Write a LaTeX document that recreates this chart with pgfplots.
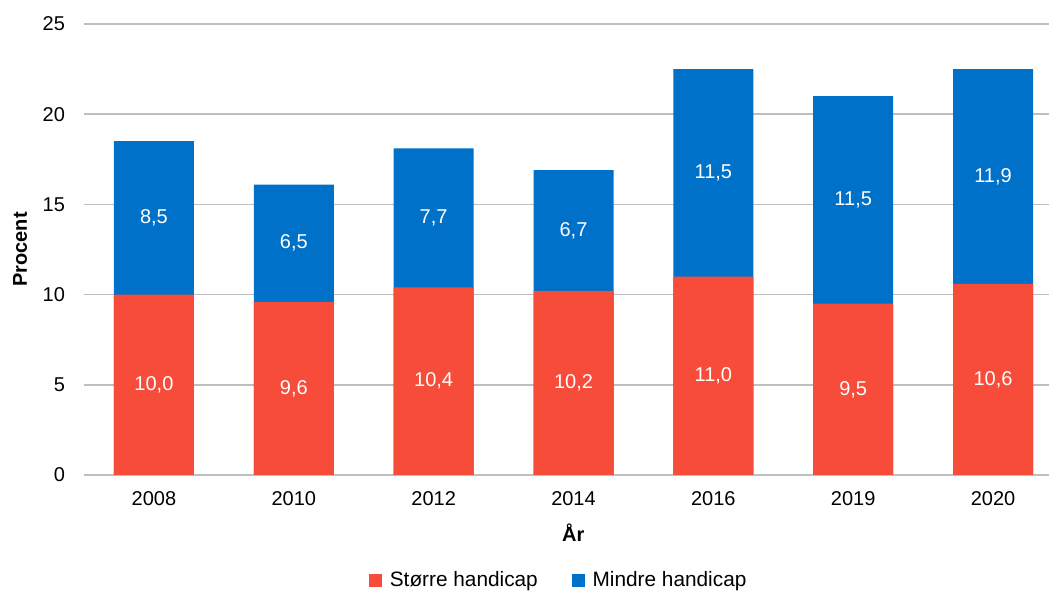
\documentclass[border=0pt]{standalone}
\usepackage{pgfplots}
\usepackage{pgfplotstable}
\pgfplotsset{compat=1.18}
\usepackage{fontspec}
\setmainfont{Liberation Sans}

\definecolor{stor}{HTML}{F84C3B}
\definecolor{mindre}{HTML}{0071C9}

\pgfplotstableread{
x big small
0 10.0 8.5
1 9.6 6.5
2 10.4 7.7
3 10.2 6.7
4 11.0 11.5
5 9.5 11.5
6 10.6 11.9
}\handicap

\begin{document}
\begin{tikzpicture}
\begin{axis}[
  name=ax,
  scale only axis,
  width=482.5pt, height=225.5pt,
  xmin=-0.5, xmax=6.4,
  ymin=0, ymax=25,
  ytick={0,5,...,25},
  xtick={0,...,6},
  xticklabels={2008,2010,2012,2014,2016,2019,2020},
  axis line style={draw=none},
  major tick length=0pt,
  ymajorgrids,
  grid style={gray!50, line width=0.8pt},
  font=\fontsize{10}{12}\selectfont,
  /pgf/number format/assume math mode=true,
  xticklabel style={anchor=center, yshift=-12pt},
  yticklabel style={anchor=east, xshift=-6pt},
  xlabel={\textbf{År}},
  ylabel={\textbf{Procent}},
  every axis x label/.style={at={(axis description cs:0.507,-0.1286)}, anchor=center},
  every axis y label/.style={at={(axis description cs:-0.0663,0.5)}, rotate=90, anchor=center},
  legend style={at={(axis description cs:0.493,-0.2328)}, anchor=center, draw=none,
    font=\fontsize{10.4}{12}\selectfont, column sep=2pt},
  legend columns=2,
  /tikz/every even column/.append style={column sep=15pt},
]
\addlegendimage{legend image code/.code={\fill[stor] (0pt,-3pt) rectangle (6pt,3pt);}}
\addlegendentry{Større handicap}
\addlegendimage{legend image code/.code={\fill[mindre] (0pt,-3pt) rectangle (6pt,3pt);}}
\addlegendentry{Mindre handicap}

\addplot[ybar, bar width=40pt, bar shift=0pt, fill=mindre, draw=none, forget plot]
  table[x=x, y expr=\thisrow{big}+\thisrow{small}] {\handicap};
\addplot[ybar, bar width=40pt, bar shift=0pt, fill=stor, draw=none, forget plot]
  table[x=x, y=big] {\handicap};

\addplot[draw=none, mark=none, forget plot, nodes near coords, point meta=explicit,
  every node near coord/.append style={anchor=center, text=white, font=\fontsize{10}{12}\selectfont,
    /pgf/number format/.cd, fixed, fixed zerofill, precision=1, use comma}]
  table[x=x, y expr=\thisrow{big}/2, meta=big] {\handicap};
\addplot[draw=none, mark=none, forget plot, nodes near coords, point meta=explicit,
  every node near coord/.append style={anchor=center, text=white, font=\fontsize{10}{12}\selectfont,
    /pgf/number format/.cd, fixed, fixed zerofill, precision=1, use comma}]
  table[x=x, y expr=\thisrow{big}+\thisrow{small}/2, meta=small] {\handicap};
\end{axis}
\pgfresetboundingbox
\path[use as bounding box] ([shift={(-42pt,-58pt)}]ax.south west) rectangle ([shift={(0pt,12pt)}]ax.north east);
\end{tikzpicture}
\end{document}
